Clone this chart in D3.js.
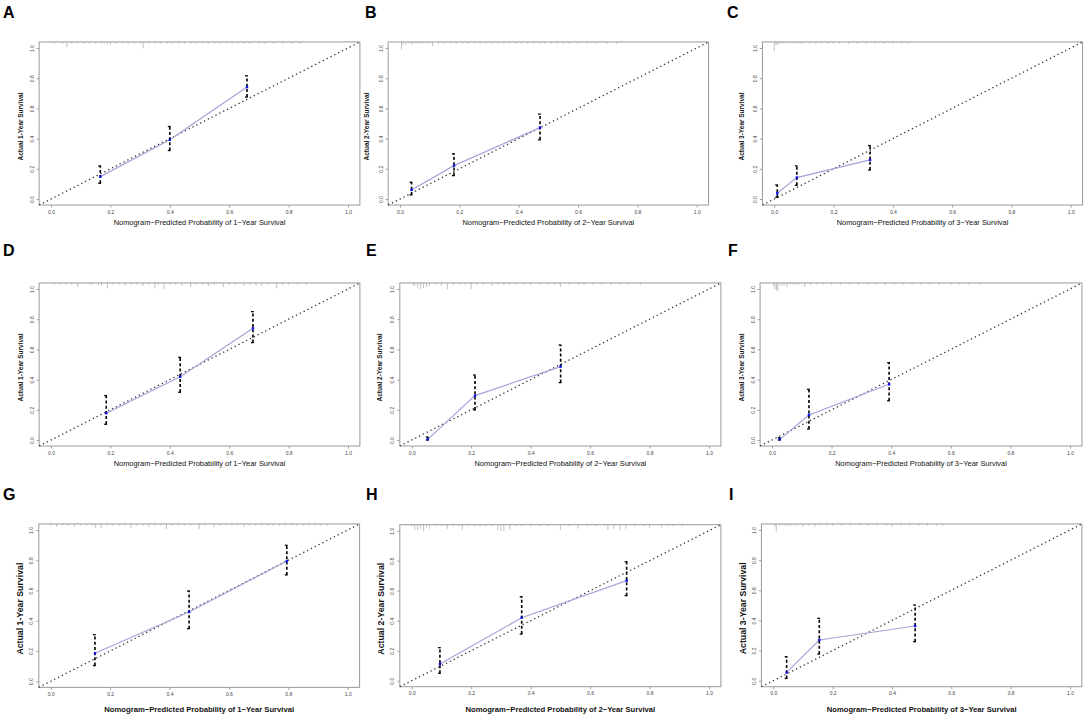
<!DOCTYPE html>
<html><head><meta charset="utf-8">
<script src="https://cdn.jsdelivr.net/npm/d3@7"></script>
<style>body{margin:0;background:#fff}svg{display:block}text{font-family:"Liberation Sans",Arial,sans-serif}</style>
</head><body><svg id="c" width="1084" height="714"></svg>
<script>
// ---- data ----
const panelLabels = ["A","B","C","D","E","F","G","H","I"];
const yearLabels = ["1","2","3","1","2","3","1","2","3"];
const tickValues = [0, 0.2, 0.4, 0.6, 0.8, 1.0];

const predA = [0.166, 0.400, 0.660], obsA = [0.148, 0.392, 0.741], loA = [0.104, 0.321, 0.675], hiA = [0.219, 0.480, 0.816];
const predB = [0.039, 0.182, 0.472], obsB = [0.060, 0.221, 0.473], loB = [0.027, 0.155, 0.392], hiB = [0.111, 0.299, 0.562];
const predC = [0.010, 0.076, 0.323], obsC = [0.038, 0.142, 0.259], loC = [0.011, 0.091, 0.192], hiC = [0.093, 0.219, 0.354];
const predD = [0.186, 0.435, 0.680], obsD = [0.177, 0.419, 0.740], loD = [0.104, 0.316, 0.645], hiD = [0.294, 0.547, 0.850];
const predE = [0.054, 0.213, 0.501], obsE = [0.004, 0.294, 0.486], loE = [0.000, 0.199, 0.380], hiE = [0.020, 0.430, 0.629];
const predF = [0.026, 0.124, 0.393], obsF = [0.004, 0.166, 0.369], loF = [0.000, 0.073, 0.260], hiF = [0.015, 0.336, 0.512];
const predG = [0.149, 0.466, 0.795], obsG = [0.185, 0.458, 0.795], loG = [0.104, 0.348, 0.703], hiG = [0.308, 0.597, 0.899];
const predH = [0.095, 0.370, 0.723], obsH = [0.111, 0.420, 0.667], loH = [0.049, 0.311, 0.567], hiH = [0.220, 0.560, 0.793];
const predI = [0.045, 0.155, 0.478], obsI = [0.055, 0.270, 0.363], loI = [0.015, 0.177, 0.259], hiI = [0.159, 0.414, 0.502];

// distribution of predicted risks (position, relative frequency)
const rugPosA = [0.01,0.04,0.054,0.07,0.09,0.11,0.13,0.15,0.17,0.19,0.20,0.22,0.24,0.26,0.28,0.30,0.31,0.33,0.35,0.37,0.39,0.41,0.43,0.45,0.47,0.49,0.51,0.53,0.55,0.57,0.59,0.61,0.63,0.65,0.67,0.70,0.72,0.75,0.78,0.81,0.84];
const rugCntA = [1,1,4,1,1,1,1,1,1,1,2,1,1,1,1,1,5,1,1,1,1,1,1,1,1,1,1,1,1,1,1,1,1,1,1,1,1,1,1,1,1];
const rugPosB = [0.005,0.01,0.02,0.03,0.04,0.05,0.06,0.07,0.08,0.09,0.10,0.11,0.13,0.15,0.17,0.19,0.21,0.23,0.25,0.27,0.29,0.31,0.33,0.35,0.37,0.39,0.41,0.43,0.45,0.47,0.49,0.51,0.53,0.55,0.57,0.60,0.63,0.66,0.70,0.73];
const rugCntB = [6,2,2,1,2,1,1,1,1,1,1,3,1,1,1,1,1,1,1,1,1,1,1,1,1,1,1,1,1,1,1,1,1,1,1,1,1,1,1,1];
const rugPosC = [0.0,0.005,0.01,0.015,0.02,0.03,0.04,0.05,0.06,0.07,0.08,0.09,0.10,0.12,0.14,0.16,0.18,0.20,0.22,0.25,0.28,0.31,0.34,0.37,0.40,0.43,0.45];
const rugCntC = [7,2,2,1,1,1,1,1,1,1,1,1,1,1,1,1,1,1,1,1,1,1,1,1,1,1,1];
const rugPosD = [0.01,0.03,0.05,0.07,0.09,0.13,0.14,0.16,0.17,0.19,0.21,0.23,0.25,0.27,0.29,0.31,0.33,0.35,0.36,0.38,0.40,0.42,0.44,0.47,0.49,0.51,0.53,0.55,0.58,0.60,0.62,0.65,0.67,0.69,0.71,0.73,0.76,0.78,0.80,0.83,0.86];
const rugCntD = [1,1,1,1,3,1,1,1,2,4,1,1,2,1,1,2,1,4,1,5,1,1,2,3,1,1,2,1,3,1,1,2,1,2,2,1,4,1,1,1,1];
const rugPosE = [0.005,0.01,0.02,0.03,0.04,0.05,0.06,0.08,0.10,0.12,0.14,0.16,0.18,0.20,0.22,0.24,0.27,0.29,0.31,0.33,0.35,0.38,0.40,0.43,0.46,0.48,0.50,0.53,0.56,0.58,0.61,0.64,0.67,0.70,0.73,0.77];
const rugCntE = [1,2,4,5,4,3,2,1,2,5,1,1,1,5,1,1,2,1,1,1,1,1,1,1,1,1,3,1,1,1,1,1,1,1,1,1];
const rugPosF = [0.005,0.01,0.015,0.02,0.03,0.04,0.05,0.06,0.07,0.08,0.09,0.11,0.13,0.15,0.17,0.20,0.23,0.26,0.29,0.32,0.35,0.38,0.41,0.44,0.47,0.50,0.53,0.56,0.60,0.63,0.66,0.70];
const rugCntF = [2,5,6,6,2,2,3,1,1,1,1,3,1,1,1,1,1,1,1,1,1,1,1,1,1,1,1,1,1,1,1,1];
const rugPosG = [0.0,0.02,0.04,0.06,0.08,0.10,0.12,0.14,0.15,0.17,0.19,0.21,0.23,0.25,0.27,0.29,0.31,0.33,0.35,0.37,0.39,0.41,0.43,0.45,0.47,0.50,0.52,0.55,0.57,0.59,0.61,0.63,0.65,0.67,0.69,0.71,0.73,0.75,0.77,0.79,0.81,0.83,0.85,0.87,0.89,0.91,0.93];
const rugCntG = [1,2,1,1,2,1,1,1,3,3,1,1,1,1,3,1,1,2,1,1,4,1,1,1,1,4,1,2,1,1,1,1,2,1,1,1,1,1,1,1,1,1,1,1,1,1,1];
const rugPosH = [0.0,0.01,0.02,0.03,0.04,0.05,0.06,0.08,0.10,0.12,0.14,0.16,0.17,0.19,0.21,0.23,0.25,0.27,0.29,0.30,0.31,0.33,0.35,0.37,0.40,0.43,0.46,0.50,0.53,0.56,0.59,0.62,0.65,0.66,0.68,0.70,0.72,0.75,0.78,0.80,0.84,0.86,0.88,0.91];
const rugCntH = [1,4,4,3,5,2,3,1,1,3,1,1,4,1,1,1,1,1,4,5,5,4,1,1,1,1,1,4,1,3,1,1,1,4,3,4,3,1,1,2,2,1,1,1];
const rugPosI = [0.005,0.01,0.02,0.03,0.04,0.05,0.06,0.07,0.08,0.10,0.12,0.14,0.16,0.18,0.20,0.23,0.26,0.29,0.32,0.35,0.38,0.40,0.43,0.46,0.49,0.52,0.55,0.57];
const rugCntI = [2,6,1,1,1,1,1,1,1,2,1,2,1,1,1,1,1,1,1,1,1,2,1,1,1,1,1,1];

const series = [
  [predA,obsA,loA,hiA,rugPosA,rugCntA],[predB,obsB,loB,hiB,rugPosB,rugCntB],[predC,obsC,loC,hiC,rugPosC,rugCntC],
  [predD,obsD,loD,hiD,rugPosD,rugCntD],[predE,obsE,loE,hiE,rugPosE,rugCntE],[predF,obsF,loF,hiF,rugPosF,rugCntF],
  [predG,obsG,loG,hiG,rugPosG,rugCntG],[predH,obsH,loH,hiH,rugPosH,rugCntH],[predI,obsI,loI,hiI,rugPosI,rugCntI]];

// ---- layout (pixel positions of 0 and 1 on each axis) ----
const layout = [
  {x0:51,x1:348,y0:199,y1:48, lx:3, ly:18, big:false, ytx:20},
  {x0:400,x1:696.7,y0:199,y1:48, lx:365, ly:18, big:false, ytx:366},
  {x0:774.3,x1:1070.7,y0:199,y1:48, lx:727, ly:18, big:false, ytx:741},
  {x0:51,x1:348,y0:440,y1:289, lx:3, ly:256, big:false, ytx:20},
  {x0:411.7,x1:709,y0:440,y1:289, lx:366, ly:256, big:false, ytx:379},
  {x0:772,x1:1070,y0:440,y1:289, lx:728, ly:256, big:false, ytx:741},
  {x0:50.7,x1:347.7,y0:681.3,y1:530, lx:3, ly:500, big:true, ytx:19},
  {x0:411.7,x1:709,y0:680.7,y1:530.7, lx:366, ly:500, big:true, ytx:380},
  {x0:773.3,x1:1070,y0:680.7,y1:530, lx:729, ly:500, big:true, ytx:742}
];

const svg = d3.select("#c");

function fitText(sel, target){
  const w = sel.node().getComputedTextLength();
  const fs = parseFloat(sel.attr("font-size"));
  sel.attr("font-size", (fs*target/w).toFixed(2));
}

layout.forEach((L,i)=>{
  const [pred,obs,lo,hi,rp,rc] = series[i];
  const ux = L.x1-L.x0, uy = L.y0-L.y1;
  const x = d3.scaleLinear().domain([-0.04,1.04]).range([L.x0-0.04*ux, L.x1+0.04*ux]);
  const y = d3.scaleLinear().domain([-0.04,1.04]).range([L.y0+0.04*uy, L.y1-0.04*uy]);
  const g = svg.append("g");

  // panel letter
  g.append("text").attr("x",L.lx).attr("y",L.ly).attr("font-size",16).attr("font-weight","bold").text(panelLabels[i]);

  // axes
  const xa = g.append("g").attr("transform",`translate(0,${y(-0.04)})`)
    .call(d3.axisBottom(x).tickValues(tickValues).tickFormat(d3.format(".1f")).tickSizeOuter(0).tickSize(2.5).tickPadding(2.5));
  const ya = g.append("g").attr("transform",`translate(${x(-0.04)},0)`)
    .call(d3.axisLeft(y).tickValues(tickValues).tickFormat(d3.format(".1f")).tickSizeOuter(0).tickSize(2.5).tickPadding(2));
  [xa,ya].forEach(a=>{a.select(".domain").remove(); a.selectAll("line").attr("stroke","#888").attr("stroke-width",0.8);
    a.selectAll("text").attr("font-size",5).attr("fill","#444").attr("font-family","Liberation Sans, Arial");});
  ya.selectAll("text").attr("transform","rotate(-90)").attr("text-anchor","middle").attr("x",0).attr("dy",0)
    .attr("y",-5.5);

  // box
  g.append("rect").attr("x",x(-0.04)).attr("y",y(1.04)).attr("width",x(1.04)-x(-0.04)).attr("height",y(-0.04)-y(1.04))
    .attr("fill","none").attr("stroke","#9a9a9a").attr("stroke-width",1);

  // rug / risk distribution spikes from top
  g.append("g").selectAll("line").data(rp.map((p,k)=>[p,rc[k]])).join("line")
    .attr("x1",d=>x(d[0])).attr("x2",d=>x(d[0]))
    .attr("y1",y(1.04)).attr("y2",d=>y(1.04)+0.5+d[1]*1.2)
    .attr("stroke","#9a9a9a").attr("stroke-width",0.6);

  // ideal diagonal
  g.append("line").attr("x1",x(-0.04)).attr("y1",y(-0.04)).attr("x2",x(1.04)).attr("y2",y(1.04))
    .attr("stroke","#333").attr("stroke-width",1.3).attr("stroke-dasharray","1.3,3");

  // calibration line
  g.append("path").datum(pred.map((p,k)=>[p,obs[k]]))
    .attr("d",d3.line().x(d=>x(d[0])).y(d=>y(d[1])))
    .attr("fill","none").attr("stroke","#a4a4d8").attr("stroke-width",1.2);

  // error bars
  const eb = g.append("g");
  pred.forEach((p,k)=>{
    eb.append("line").attr("x1",x(p)).attr("x2",x(p)).attr("y1",y(lo[k])).attr("y2",y(hi[k]))
      .attr("stroke","#000").attr("stroke-width",1.6).attr("stroke-dasharray","3,2.2");
    [lo[k],hi[k]].forEach(v=>{
      eb.append("line").attr("x1",x(p)-2).attr("x2",x(p)+0.8).attr("y1",y(v)).attr("y2",y(v))
        .attr("stroke","#000").attr("stroke-width",1.3);
    });
  });
  // points
  g.append("g").selectAll("rect").data(pred.map((p,k)=>[p,obs[k]])).join("rect")
    .attr("x",d=>x(d[0])-1.2).attr("y",d=>y(d[1])-1.2).attr("width",2.4).attr("height",2.4).attr("fill","#1010ee");

  // axis titles
  const xt = g.append("text").attr("x",x(0.5)).attr("y",L.big? y(-0.04)+25 : y(-0.04)+19.5)
    .attr("text-anchor","middle").attr("font-size",8).attr("font-weight",L.big?"bold":"normal").attr("fill","#111")
    .text(`Nomogram\u2212Predicted Probability of ${yearLabels[i]}\u2212Year Survival`);
  fitText(xt, L.big?190:172);
  const yc = y(0.5)+3;
  const yt = g.append("text").attr("transform",`translate(${L.ytx + (L.big?3.5:2.5)},${yc}) rotate(-90)`)
    .attr("text-anchor","middle").attr("font-size",8).attr("font-weight","bold").attr("fill","#111")
    .text(`Actual ${yearLabels[i]}-Year Survival`);
  fitText(yt, L.big?92:68);
});
</script></body></html>
